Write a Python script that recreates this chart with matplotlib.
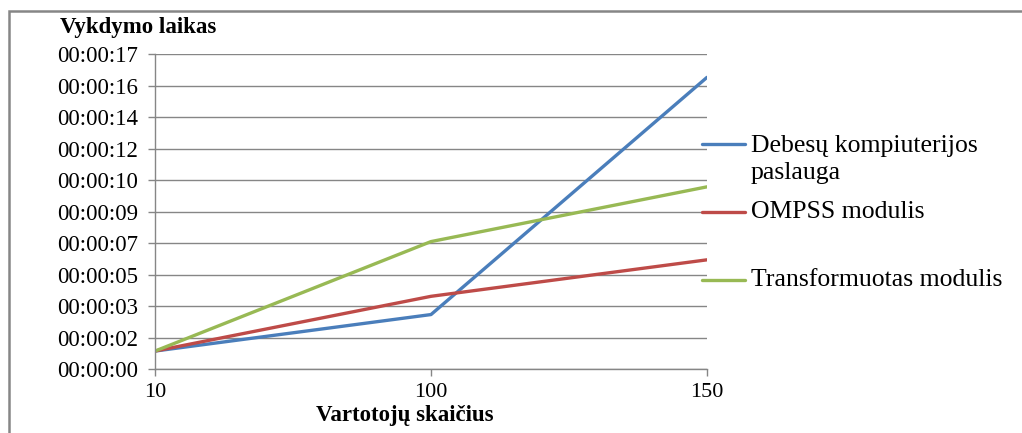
import matplotlib.pyplot as plt
from matplotlib.lines import Line2D
from matplotlib.patches import Rectangle

# duomenys (sekundes)
vartotojai = ['10', '100', '150']
debesu = [1.0, 3.0, 16.0]
ompss = [1.0, 4.0, 6.0]
transform = [1.0, 7.0, 10.0]
serijos = ['Debesų kompiuterijos\npaslauga', 'OMPSS modulis', 'Transformuotas modulis']
spalvos = ['#4A7EBB', '#BE4B48', '#98B954']

plt.rcParams['font.family'] = ['Liberation Serif', 'DejaVu Serif']
grey = '#868686'

fig = plt.figure(figsize=(10.22, 4.33), dpi=100)
ax = fig.add_axes([155 / 1022, 1 - 369.3 / 433, (707 - 155) / 1022, (369.3 - 54) / 433])

x = list(range(len(vartotojai)))
for y, c in zip([debesu, ompss, transform], spalvos):
    ax.plot(x, y, color=c, lw=2.4, solid_capstyle='round')

# Excel laiko asis: zingsnis 0.00002 paros = 1.728 s
step = 1.728
yt = [i * step for i in range(11)]
ax.set_ylim(0, yt[-1])
ax.set_yticks(yt)
ax.set_yticklabels(['00:00:%02d' % round(v) for v in yt])
ax.set_xlim(0, len(vartotojai) - 1)
ax.set_xticks(x)
ax.set_xticklabels(vartotojai)

ax.grid(axis='y', color=grey, lw=1)
ax.set_axisbelow(True)
for s in ['top', 'right']:
    ax.spines[s].set_visible(False)
for s in ['left', 'bottom']:
    ax.spines[s].set_color(grey)
    ax.spines[s].set_linewidth(1)
ax.tick_params(axis='both', colors=grey, labelcolor='black', labelsize=16.5, length=5, width=1)
ax.tick_params(axis='y', pad=7)
ax.tick_params(axis='x', pad=5, labelsize=16)

fig.text(60 / 1022, 1 - 28 / 433, 'Vykdymo laikas', fontsize=16.5, fontweight='bold', va='center', ha='left')
fig.text(405 / 1022, 1 - 415 / 433, 'Vartotojų skaičius', fontsize=16.5, fontweight='bold', va='center', ha='center')

# legenda
leg_y = [144, 212, 280]
for yy, lab, c in zip(leg_y, serijos, spalvos):
    fy = 1 - yy / 433
    fig.add_artist(Line2D([702 / 1022, 745 / 1022], [fy, fy], color=c, lw=2.4, solid_capstyle='round'))
    if '\n' in lab:
        fig.text(751 / 1022, 1 - 135 / 433, lab, fontsize=18.5, va='top', ha='left', linespacing=1.28)
    else:
        fig.text(751 / 1022, fy, lab, fontsize=18.5, va='center', ha='left')

# remelis
fig.add_artist(Rectangle((9 / 1022, -0.5), 2, 1.5 - 11 / 433, fill=False, edgecolor=grey, lw=1.8,
                         transform=fig.transFigure))

fig.savefig('out.png', dpi=100)
